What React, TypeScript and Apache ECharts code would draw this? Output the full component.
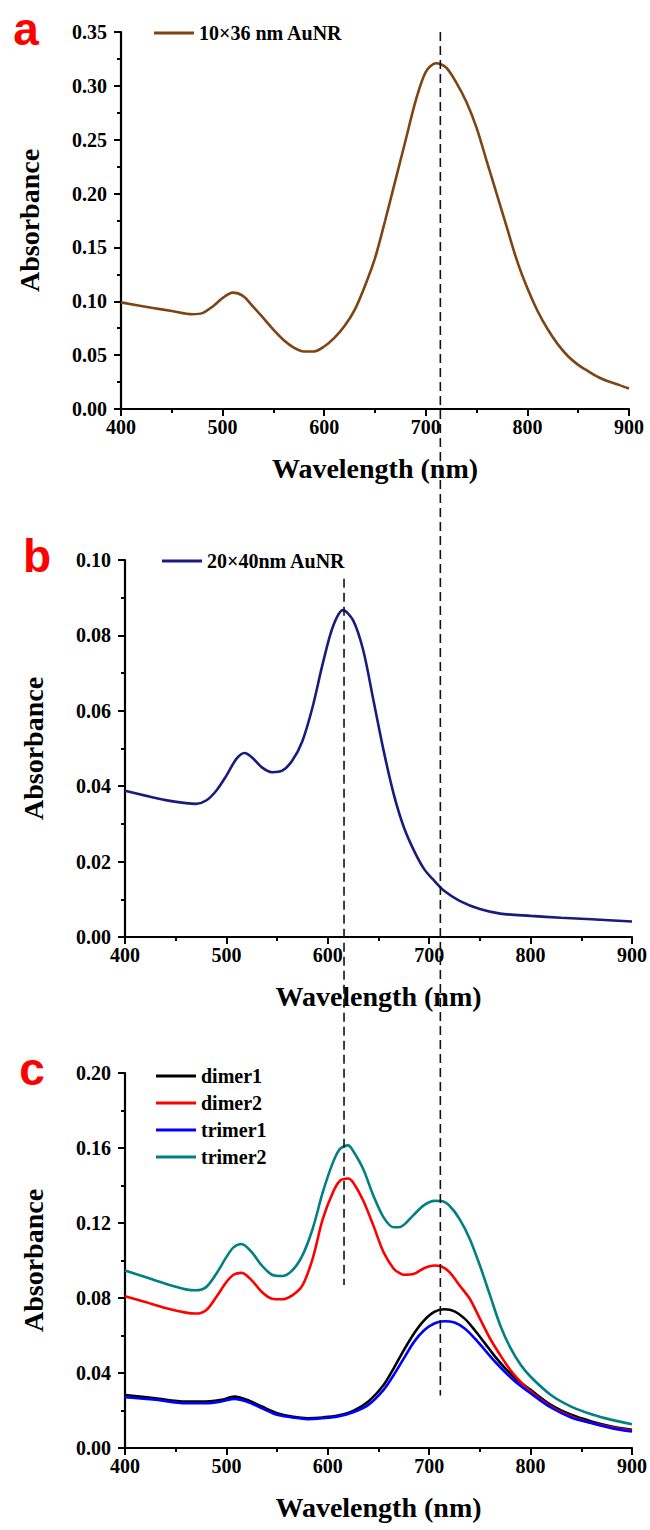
import React, { useEffect, useRef } from 'react';
import * as echarts from 'echarts';

// ---------- Panel a: 10x36 nm AuNR ----------
const wlA = [400, 430, 450, 470, 480, 490, 500, 510, 520, 530, 540, 550, 560, 570, 580, 590, 600, 610, 620, 630, 640, 650, 660, 670, 680, 690, 700, 710, 720, 730, 740, 750, 760, 770, 780, 790, 800, 810, 820, 830, 840, 850, 860, 870, 880, 890, 900];
const absA = [0.099, 0.094, 0.091, 0.088, 0.089, 0.095, 0.103, 0.108, 0.105, 0.095, 0.0845, 0.0736, 0.064, 0.057, 0.0534, 0.0534, 0.058, 0.066, 0.077, 0.092, 0.114, 0.14, 0.175, 0.212, 0.249, 0.286, 0.313, 0.321, 0.317, 0.303, 0.285, 0.261, 0.23, 0.199, 0.168, 0.137, 0.112, 0.091, 0.074, 0.06, 0.049, 0.041, 0.035, 0.0295, 0.0255, 0.0224, 0.019];

// ---------- Panel b: 20x40 nm AuNR ----------
const wlB = [400, 420, 440, 460, 470, 480, 490, 500, 510, 518, 525, 535, 545, 555, 565, 575, 585, 595, 605, 615, 625, 635, 645, 655, 665, 675, 685, 695, 705, 715, 730, 750, 770, 800, 830, 860, 900];
const absB = [0.0388, 0.0375, 0.0363, 0.0355, 0.0353, 0.0362, 0.0388, 0.0428, 0.0473, 0.0488, 0.0477, 0.045, 0.0437, 0.0441, 0.0468, 0.052, 0.061, 0.0725, 0.0823, 0.0867, 0.084, 0.076, 0.0628, 0.0495, 0.0379, 0.0291, 0.0229, 0.018, 0.0149, 0.0122, 0.0096, 0.0074, 0.0062, 0.0056, 0.0051, 0.0047, 0.0041];

// ---------- Panel c: assemblies ----------
const wlC1 = [400, 430, 460, 480, 495, 508, 520, 535, 550, 565, 580, 595, 610, 625, 640, 655, 665, 675, 685, 695, 705, 715, 725, 735, 745, 755, 765, 775, 785, 800, 820, 840, 860, 880, 900];
const dimer1 = [0.0283, 0.0265, 0.0248, 0.0248, 0.0257, 0.0274, 0.0257, 0.0221, 0.0186, 0.0168, 0.0159, 0.0163, 0.0173, 0.0198, 0.0248, 0.0336, 0.0425, 0.0522, 0.0611, 0.0681, 0.0726, 0.074, 0.0729, 0.069, 0.0628, 0.0558, 0.0487, 0.0425, 0.0372, 0.031, 0.023, 0.0177, 0.0142, 0.0115, 0.0097];
const trimer1 = [0.0271, 0.0257, 0.0239, 0.0239, 0.0248, 0.0262, 0.0248, 0.0212, 0.0177, 0.0163, 0.0154, 0.0159, 0.0168, 0.0191, 0.023, 0.031, 0.0389, 0.0478, 0.0566, 0.0628, 0.0664, 0.0676, 0.0669, 0.0637, 0.0584, 0.0522, 0.046, 0.0404, 0.0354, 0.0292, 0.0216, 0.0163, 0.0133, 0.0106, 0.0088];
const wlC2 = [400, 420, 440, 460, 470, 480, 490, 500, 507, 515, 525, 535, 545, 555, 565, 575, 585, 595, 605, 612, 620, 625, 635, 645, 655, 665, 670, 675, 685, 695, 705, 712, 720, 730, 740, 750, 760, 770, 780, 790, 800, 820, 840, 860, 880, 900];
const dimer2 = [0.081, 0.0779, 0.0747, 0.0722, 0.0717, 0.0735, 0.0805, 0.0885, 0.0924, 0.0934, 0.0894, 0.0832, 0.0796, 0.0793, 0.0814, 0.0867, 0.1009, 0.1221, 0.1363, 0.1425, 0.1437, 0.1416, 0.1319, 0.1186, 0.1044, 0.0956, 0.0935, 0.0924, 0.0929, 0.0959, 0.0973, 0.0968, 0.0938, 0.0867, 0.0796, 0.069, 0.0584, 0.0496, 0.0416, 0.0354, 0.0301, 0.0221, 0.0168, 0.0133, 0.011, 0.0092];
const trimer2 = [0.0947, 0.0912, 0.0876, 0.0846, 0.0841, 0.0858, 0.0929, 0.1018, 0.107, 0.1088, 0.1044, 0.0973, 0.0924, 0.0917, 0.0947, 0.1027, 0.1168, 0.1363, 0.1522, 0.1595, 0.1614, 0.1584, 0.1487, 0.1345, 0.123, 0.1177, 0.1177, 0.119, 0.1245, 0.1295, 0.1318, 0.1317, 0.1292, 0.1221, 0.1115, 0.0973, 0.0814, 0.0655, 0.0535, 0.0445, 0.038, 0.0283, 0.0221, 0.018, 0.015, 0.0127];

// axis ticks
const xTicks = { min: 400, max: 900, interval: 100 };
const yTicksA = { min: 0, max: 0.35, interval: 0.05 };
const yTicksB = { min: 0, max: 0.1, interval: 0.02 };
const yTicksC = { min: 0, max: 0.2, interval: 0.04 };

// guide lines (nm) and their vertical extents (absorbance)
const longGuideNm = 711;
const longGuideTopA = 0.35;
const longGuideEndC = 0.028;
const shortGuideNm = 616;
const shortGuideTopB = 0.095;
const shortGuideEndC = 0.087;

const zip = (xs: number[], ys: number[]) => xs.map((x, i) => [x, ys[i]]);

const FONT = 'Liberation Serif';

export default function App() {
  const ref = useRef<HTMLDivElement>(null);
  useEffect(() => {
    const chart = echarts.init(ref.current!, null, { renderer: 'svg' });
    const grids = [
      { left: 121, right: 21, top: 32, height: 377 },
      { left: 125, right: 15, top: 560, height: 377 },
      { left: 125, right: 15, top: 1073, height: 375 },
    ];
    const axisLine = { show: true, onZero: false, lineStyle: { color: '#000', width: 2.2 } };
    const axisTick = { show: true, inside: false, length: 7, lineStyle: { color: '#000', width: 2 } };
    const minorTick = { show: true, splitNumber: 2, length: 4, lineStyle: { color: '#000', width: 2 } };
    const label = { color: '#000', fontFamily: FONT, fontWeight: 'bold', fontSize: 20 };
    const nameStyle = { color: '#000', fontFamily: FONT, fontWeight: 'bold', fontSize: 28 };
    const xAxis = [0, 1, 2].map((g) => ({
      type: 'value',
      gridIndex: g,
      ...xTicks,
      axisLine,
      axisTick,
      minorTick,
      splitLine: { show: false },
      axisLabel: { ...label, margin: 8 },
      name: 'Wavelength (nm)',
      nameLocation: 'middle',
      nameGap: 45,
      nameTextStyle: nameStyle,
    }));
    const yAxis = [yTicksA, yTicksB, yTicksC].map((t, g) => ({
      type: 'value',
      gridIndex: g,
      ...t,
      axisLine,
      axisTick,
      minorTick,
      splitLine: { show: false },
      axisLabel: { ...label, margin: 14, formatter: (v: number) => v.toFixed(2) },
      name: 'Absorbance',
      nameLocation: 'middle',
      nameGap: 78,
      nameRotate: 90,
      nameTextStyle: nameStyle,
    }));
    const line = (name: string, data: number[][], color: string, g: number) => ({
      name,
      type: 'line',
      xAxisIndex: g,
      yAxisIndex: g,
      data,
      smooth: 0.3,
      showSymbol: false,
      symbol: 'none',
      lineStyle: { color, width: 2.6 },
      itemStyle: { color },
    });
    const legendBase = {
      icon: 'rect',
      itemWidth: 40,
      itemHeight: 3,
      textStyle: { color: '#000', fontFamily: FONT, fontWeight: 'bold', fontSize: 20 },
    };
    const option: any = {
      animation: false,
      backgroundColor: '#fff',
      grid: grids,
      xAxis,
      yAxis,
      legend: [
        { ...legendBase, left: 149, top: 18, data: ['10×36 nm AuNR'] },
        { ...legendBase, left: 157, top: 546, data: ['20×40nm AuNR'] },
        { ...legendBase, left: 151, top: 1061, orient: 'vertical', itemGap: 7, data: ['dimer1', 'dimer2', 'trimer1', 'trimer2'] },
      ],
      series: [
        line('10×36 nm AuNR', zip(wlA, absA), '#7f4414', 0),
        line('20×40nm AuNR', zip(wlB, absB), '#1b1b7e', 1),
        line('dimer1', zip(wlC1, dimer1), '#000000', 2),
        line('dimer2', zip(wlC2, dimer2), '#ff0000', 2),
        line('trimer1', zip(wlC1, trimer1), '#0000ff', 2),
        line('trimer2', zip(wlC2, trimer2), '#008080', 2),
      ],
    };
    chart.setOption(option);

    const px = (g: number, x: number, y: number) => chart.convertToPixel({ gridIndex: g } as any, [x, y]) as number[];
    const longX = px(1, longGuideNm, 0)[0];
    const longTop = px(0, 400, longGuideTopA)[1];
    const longBottom = px(2, 400, longGuideEndC)[1];
    const shortX = px(1, shortGuideNm, 0)[0];
    const shortTop = px(1, 400, shortGuideTopB)[1];
    const shortBottom = px(2, 400, shortGuideEndC)[1];
    const dash = { stroke: '#111', lineWidth: 1.6, lineDash: [9, 5] };
    const letter = (text: string, x: number, baseline: number) => ({
      type: 'text',
      x,
      y: baseline - 16,
      style: {
        text,
        fill: '#ff0000',
        font: 'bold 46px "Liberation Sans", Arial, sans-serif',
        align: 'center',
        verticalAlign: 'middle',
      },
    });
    chart.setOption({
      graphic: [
        { type: 'line', shape: { x1: longX, y1: longTop, x2: longX, y2: longBottom }, style: dash, z: 10 },
        { type: 'line', shape: { x1: shortX, y1: shortTop, x2: shortX, y2: shortBottom }, style: dash, z: 10 },
        letter('a', 26, 45),
        letter('b', 37, 572),
        letter('c', 32, 1085),
      ],
    });
    return () => chart.dispose();
  }, []);
  return <div ref={ref} style={{ position: 'absolute', left: 0, top: 0, width: 650, height: 1530 }} />;
}
